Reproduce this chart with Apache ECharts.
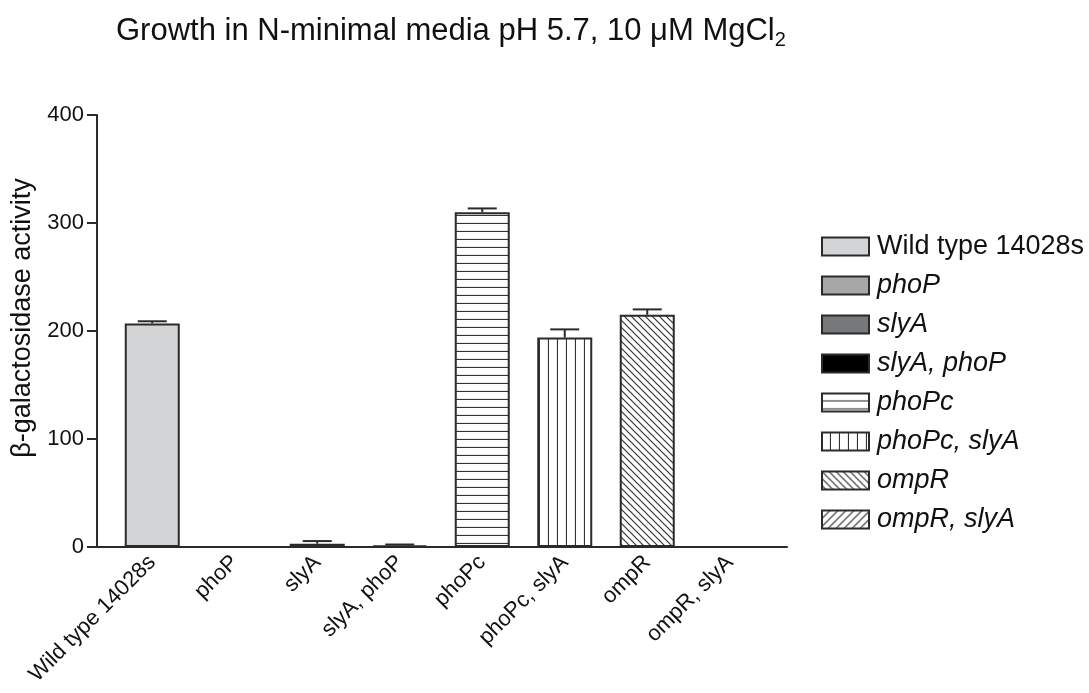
<!DOCTYPE html>
<html>
<head>
<meta charset="utf-8">
<script src="https://cdn.jsdelivr.net/npm/echarts@6/dist/echarts.min.js"></script>
<style>
  html, body { margin: 0; padding: 0; background: #fff; }
  #chart { width: 1089px; height: 693px; }
</style>
</head>
<body>
<div id="chart"></div>
<script>
// Strains measured
const categories = ['Wild type 14028s', 'phoP', 'slyA', 'slyA, phoP', 'phoPc', 'phoPc, slyA', 'ompR', 'ompR, slyA'];
// Mean beta-galactosidase activity per strain
const means = [207, 0, 3, 1.5, 310, 194, 215, 0];
// Standard error (upper whisker only)
const sems = [2, 0, 2.5, 0.8, 3.5, 7.5, 5, 0];
// Y axis tick values
const yTicks = [0, 100, 200, 300, 400];

const FONT = '"Liberation Sans", Arial, sans-serif';
const INK = '#2a2a2a';

// Build a repeating hatch tile for the patterned bars
function hatch(kind) {
  const c = document.createElement('canvas');
  const size = { h: [8, 8], v: [9, 9], d: [7, 7], u: [8, 8] }[kind];
  c.width = size[0]; c.height = size[1];
  const g = c.getContext('2d');
  g.fillStyle = '#ffffff';
  g.fillRect(0, 0, c.width, c.height);
  g.strokeStyle = '#333';
  g.lineWidth = 1.2;
  const w = c.width, h = c.height;
  g.beginPath();
  if (kind === 'h') { g.moveTo(0, h - 0.5); g.lineTo(w, h - 0.5); }
  if (kind === 'v') { g.moveTo(w - 0.5, 0); g.lineTo(w - 0.5, h); }
  if (kind === 'd') {
    g.moveTo(-1, -1); g.lineTo(w + 1, h + 1);
    g.moveTo(-1, h - 1); g.lineTo(1, h + 1);
    g.moveTo(w - 1, -1); g.lineTo(w + 1, 1);
  }
  if (kind === 'u') {
    g.moveTo(-1, h + 1); g.lineTo(w + 1, -1);
    g.moveTo(-1, 1); g.lineTo(1, -1);
    g.moveTo(w - 1, h + 1); g.lineTo(w + 1, h - 1);
  }
  g.stroke();
  return { image: c, repeat: 'repeat' };
}

const fills = ['#d3d4d6', '#a6a7a9', '#77787a', '#000000', hatch('h'), hatch('v'), hatch('d'), hatch('u')];

const barSeries = categories.map((name, i) => ({
  name: name,
  type: 'bar',
  xAxisIndex: 1,
  yAxisIndex: 1,
  barWidth: 55,
  barGap: '-100%',
  itemStyle: { color: fills[i], borderColor: INK, borderWidth: 2 },
  data: categories.map((_, j) => (j === i ? means[i] : '-')),
  z: 2
}));

const errorSeries = {
  type: 'custom',
  xAxisIndex: 1,
  yAxisIndex: 1,
  z: 3,
  silent: true,
  data: categories.map((_, i) => [i, means[i], sems[i]]),
  renderItem: function (params, api) {
    const i = api.value(0), m = api.value(1), s = api.value(2);
    if (!s) return null;
    const base = api.coord([i, m]);
    const top = api.coord([i, m + s]);
    const half = 14.5;
    return {
      type: 'group',
      children: [
        { type: 'line', shape: { x1: base[0], y1: base[1], x2: top[0], y2: top[1] },
          style: { stroke: INK, lineWidth: 2 } },
        { type: 'line', shape: { x1: top[0] - half, y1: top[1], x2: top[0] + half, y2: top[1] },
          style: { stroke: INK, lineWidth: 2 } }
      ]
    };
  }
};

const chart = echarts.init(document.getElementById('chart'), null, { renderer: 'canvas' });
chart.setOption({
  backgroundColor: '#ffffff',
  animation: false,
  textStyle: { fontFamily: FONT, color: '#111' },
  title: {
    text: '{a|Growth in N-minimal media pH 5.7, 10 μM MgCl}{s|2}',
    left: 116,
    top: 12,
    padding: 0,
    textStyle: {
      fontWeight: 'normal',
      rich: {
        a: { fontFamily: FONT, fontSize: 31, fontWeight: 'normal', lineHeight: 38, color: '#111' },
        s: { fontFamily: FONT, fontSize: 20, fontWeight: 'normal', lineHeight: 20, verticalAlign: 'bottom', color: '#111' }
      }
    }
  },
  legend: {
    orient: 'vertical',
    left: 821,
    top: 233,
    padding: 0,
    itemWidth: 47,
    itemHeight: 18,
    itemGap: 12,
    icon: 'rect',
    data: categories,
    formatter: function (name) {
      return name === categories[0] ? '{n|' + name + '}' : '{i|' + name + '}';
    },
    textStyle: {
      padding: [0, 0, 0, 3],
      rich: {
        n: { fontFamily: FONT, fontSize: 27, color: '#111' },
        i: { fontFamily: FONT, fontSize: 27, fontStyle: 'italic', color: '#111' }
      }
    }
  },
  grid: [
    { left: 97, top: 115, width: 690, height: 432 },
    { left: 111, top: 115, width: 660, height: 432 }
  ],
  xAxis: [
    {
      type: 'value', gridIndex: 0, min: 0, max: 1,
      axisLine: { show: true, lineStyle: { color: INK, width: 2 } },
      axisTick: { show: false }, axisLabel: { show: false }, splitLine: { show: false }
    },
    {
      type: 'category', gridIndex: 1, data: categories,
      axisLine: { show: false }, axisTick: { show: false },
      axisLabel: {
        rotate: 45, margin: 12, fontSize: 22, color: '#111', fontFamily: FONT, interval: 0
      }
    }
  ],
  yAxis: [
    {
      type: 'value', gridIndex: 0, min: yTicks[0], max: yTicks[yTicks.length - 1], interval: 100,
      name: 'β-galactosidase activity',
      nameLocation: 'middle', nameRotate: 90, nameGap: 58,
      nameTextStyle: { fontSize: 27, color: '#111', fontFamily: FONT, padding: [0, 0, 0, 26] },
      axisLine: { show: true, lineStyle: { color: INK, width: 2 } },
      axisTick: { show: true, inside: false, length: 10, lineStyle: { color: INK, width: 2 } },
      axisLabel: { fontSize: 22, color: '#111', margin: 13, fontFamily: FONT },
      splitLine: { show: false }
    },
    {
      type: 'value', gridIndex: 1, min: yTicks[0], max: yTicks[yTicks.length - 1], interval: 100,
      show: false
    }
  ],
  series: barSeries.concat([errorSeries])
});
</script>
</body>
</html>
